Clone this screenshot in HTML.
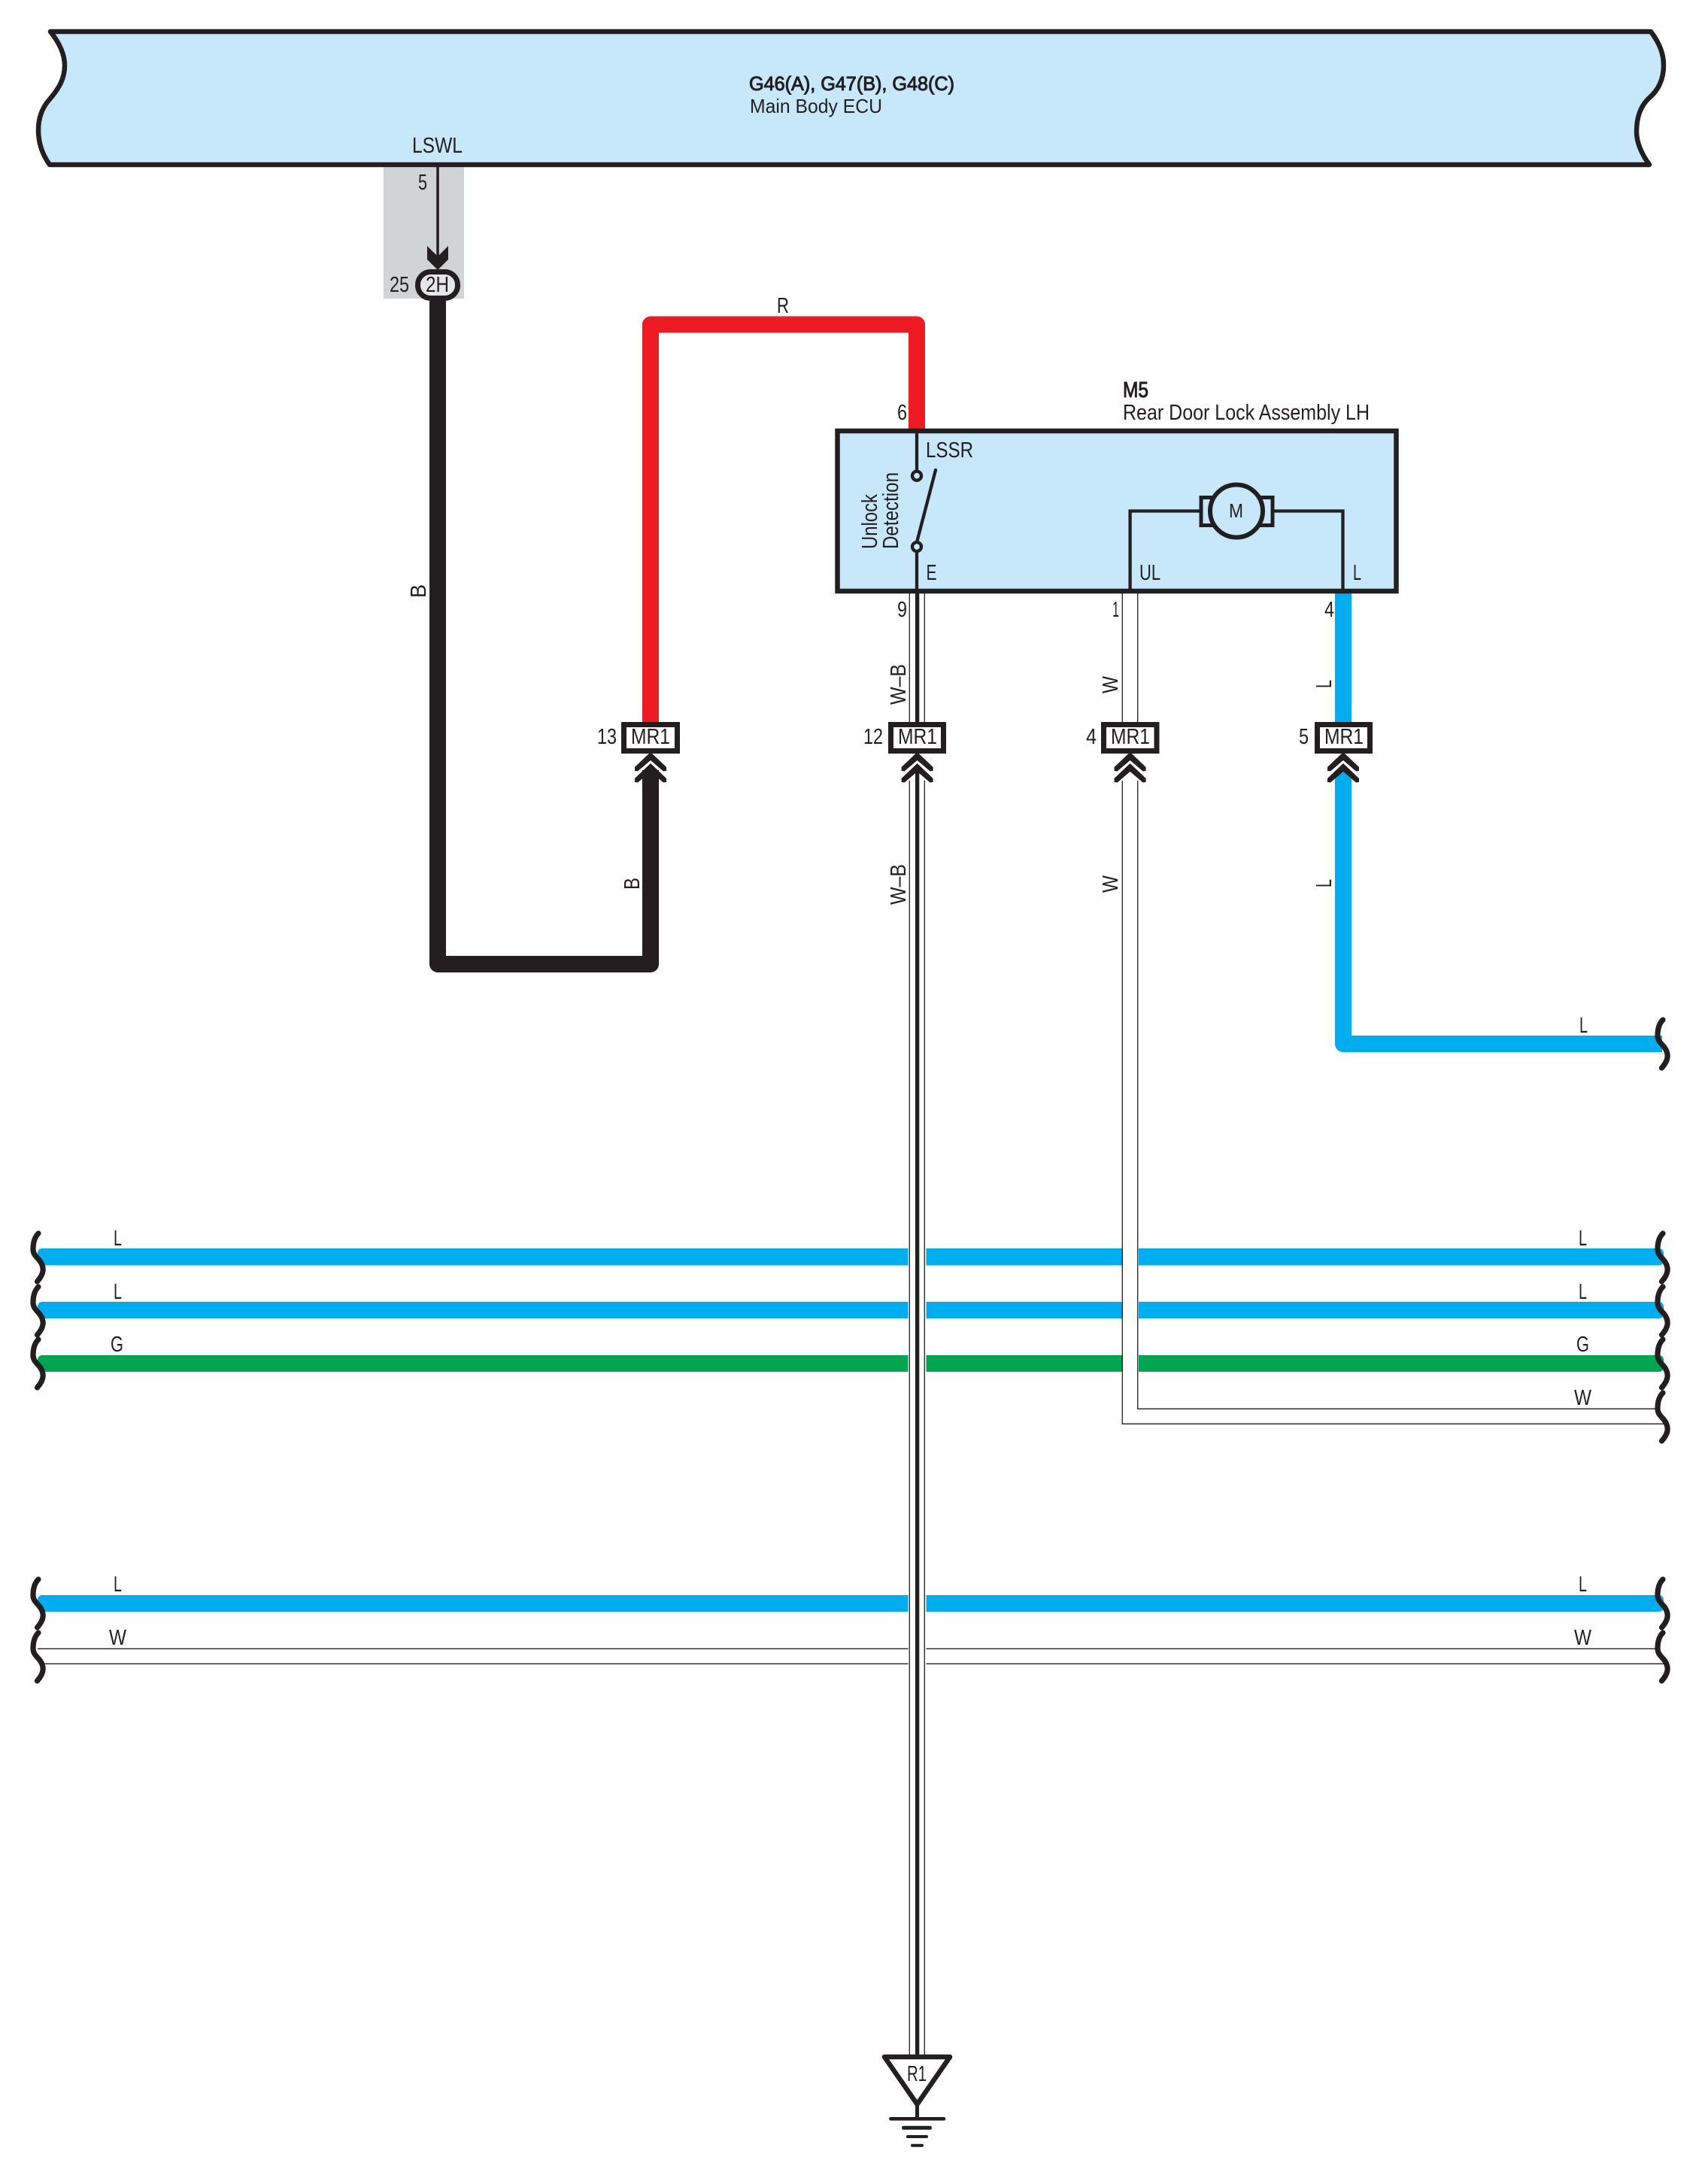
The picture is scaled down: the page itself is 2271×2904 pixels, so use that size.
<!DOCTYPE html>
<html><head><meta charset="utf-8"><title>Wiring diagram</title>
<style>html,body{margin:0;padding:0;background:#fff}svg{display:block}
text{font-family:"Liberation Sans",sans-serif;font-size:28.5px;fill:#231f20}
.t{font-size:26px}</style></head>
<body>
<svg xmlns="http://www.w3.org/2000/svg" xmlns:xlink="http://www.w3.org/1999/xlink" width="2271" height="2904" viewBox="0 0 2271 2904">
<defs>
<path id="sq" d="M51 0C46 5 44 13 44 21C44 29 50 32 54 38C57 43 57.5 47 57 50C56.5 55 53 60 49.5 64" fill="none" stroke="#231f20" stroke-width="7.2" stroke-linecap="round"/>
<path id="chev" d="M0 0L21 20V25L17 25.5L0 11L-17 25.5L-21 25V20Z" fill="#231f20"/>
</defs>
<rect width="2271" height="2904" fill="#fff"/>

<!-- ECU -->
<rect x="510" y="219" width="107" height="178" fill="#d1d3d4"/>
<path d="M67 42L2195 42C2207 58 2212 72 2212 87C2212 105 2205 120 2193 130C2182 140 2176 155 2176 175C2176 190 2183 205 2193 219L66 219C56 205 51 190 51 173C51 155 57 142 66 132C78 118 86 105 86 87C86 72 79 57 67 42Z" fill="#c7e8fa" stroke="#231f20" stroke-width="6.5" stroke-linejoin="round"/>
<text class="t" x="996" y="120" textLength="273" lengthAdjust="spacingAndGlyphs" stroke="#231f20" stroke-width="1">G46(A), G47(B), G48(C)</text>
<text class="t" x="997" y="150" textLength="176" lengthAdjust="spacingAndGlyphs">Main Body ECU</text>
<text x="548" y="203" textLength="67" lengthAdjust="spacingAndGlyphs">LSWL</text>
<text x="556" y="252" textLength="12" lengthAdjust="spacingAndGlyphs">5</text>

<!-- 2H -->
<line x1="582" y1="219" x2="582" y2="342" stroke="#231f20" stroke-width="3.5"/>
<polygon points="568,327 582,341 596,327 596,345 582,359 568,345" fill="#231f20"/>
<rect x="555.5" y="361.5" width="53" height="35" rx="17" fill="#e6e7e8" stroke="#231f20" stroke-width="7"/>
<text x="566" y="388" textLength="31" lengthAdjust="spacingAndGlyphs">2H</text>
<text x="518" y="388" textLength="26" lengthAdjust="spacingAndGlyphs">25</text>

<!-- black wire -->
<path d="M582 400V1282H865V1024" fill="none" stroke="#231f20" stroke-width="22" stroke-linejoin="round"/>
<text transform="translate(566,795) rotate(-90)" textLength="18" lengthAdjust="spacingAndGlyphs">B</text>
<text transform="translate(850,1183) rotate(-90)" textLength="16" lengthAdjust="spacingAndGlyphs">B</text>

<!-- red wire -->
<path d="M865 962V431.5H1219V573" fill="none" stroke="#ed1c24" stroke-width="22" stroke-linejoin="round"/>
<text x="1033" y="416" textLength="16" lengthAdjust="spacingAndGlyphs">R</text>

<!-- horizontal wires -->
<rect x="50" y="1660" width="2162" height="22.5" rx="6" fill="#00aeef"/>
<rect x="50" y="1731" width="2162" height="22" rx="6" fill="#00aeef"/>
<rect x="50" y="1802" width="2162" height="22" rx="6" fill="#00a651"/>
<rect x="50" y="2121" width="2162" height="22" rx="6" fill="#00aeef"/>
<g stroke="#231f20" stroke-width="1.3" fill="none">
<line x1="50" y1="2192.3" x2="2205" y2="2192.3"/>
<line x1="58" y1="2212.3" x2="2214" y2="2212.3"/>
</g>
<!-- gaps -->
<rect x="1207.5" y="1650" width="24" height="185" fill="#fff"/>
<rect x="1207.5" y="2115" width="24" height="105" fill="#fff"/>
<rect x="1492" y="1650" width="22" height="185" fill="#fff"/>

<!-- W-B wire -->
<g stroke="#231f20" fill="none">
<path d="M1209.3 786V962M1229.3 786V962M1209.3 1038V2734M1229.3 1038V2734" stroke-width="1.3"/>
<path d="M1219.6 786V962M1219.6 1020V2734" stroke-width="5.4"/>
</g>
<text transform="translate(1204,937) rotate(-90)" textLength="54" lengthAdjust="spacingAndGlyphs">W–B</text>
<text transform="translate(1204,1203) rotate(-90)" textLength="54" lengthAdjust="spacingAndGlyphs">W–B</text>

<!-- W wire -->
<g stroke="#231f20" fill="none" stroke-width="1.3">
<path d="M1492.3 786V962M1512.7 786V962"/>
<path d="M1512.7 1038V1873.3H2205"/>
<path d="M1492.3 1038V1893.3H2214"/>
</g>
<text transform="translate(1486,922) rotate(-90)" textLength="23" lengthAdjust="spacingAndGlyphs">W</text>
<text transform="translate(1486,1187) rotate(-90)" textLength="23" lengthAdjust="spacingAndGlyphs">W</text>

<!-- L wire -->
<path d="M1786 786V962M1786 1026V1388H2210" fill="none" stroke="#00aeef" stroke-width="22" stroke-linejoin="round"/>
<text transform="translate(1770,915) rotate(-90)" textLength="11" lengthAdjust="spacingAndGlyphs">L</text>
<text transform="translate(1770,1180) rotate(-90)" textLength="11" lengthAdjust="spacingAndGlyphs">L</text>

<!-- M5 box -->
<rect x="1113.5" y="573" width="743" height="213" fill="#c7e8fa" stroke="#231f20" stroke-width="6.5" stroke-linejoin="miter"/>
<text x="1493" y="528" textLength="34" lengthAdjust="spacingAndGlyphs" stroke="#231f20" stroke-width="1">M5</text>
<text x="1493" y="558" textLength="328" lengthAdjust="spacingAndGlyphs">Rear Door Lock Assembly LH</text>
<text x="1231" y="608" textLength="63" lengthAdjust="spacingAndGlyphs">LSSR</text>
<text x="1231.5" y="771" textLength="14" lengthAdjust="spacingAndGlyphs">E</text>
<text x="1515" y="771" textLength="28" lengthAdjust="spacingAndGlyphs">UL</text>
<text x="1799" y="771" textLength="11" lengthAdjust="spacingAndGlyphs">L</text>
<text transform="translate(1166,730) rotate(-90)" textLength="73" lengthAdjust="spacingAndGlyphs">Unlock</text>
<text transform="translate(1194,730) rotate(-90)" textLength="102" lengthAdjust="spacingAndGlyphs">Detection</text>
<g stroke="#231f20" stroke-width="4.3" fill="none">
<path d="M1219 576V626M1219 734V786"/>
<circle cx="1219" cy="632.7" r="6" fill="#c7e8fa"/>
<circle cx="1219" cy="727" r="6" fill="#c7e8fa"/>
<path d="M1244 625L1219 721" stroke-linecap="round"/>
<path d="M1502.6 786V679.5H1597M1692 679.5H1785.5V786"/>
<rect x="1597" y="661.5" width="95" height="37" fill="#c7e8fa" stroke-width="5"/>
<circle cx="1644" cy="679.5" r="35" fill="#c7e8fa" stroke-width="6"/>
</g>
<text x="1634" y="688" textLength="19" lengthAdjust="spacingAndGlyphs" style="font-size:26px">M</text>
<text x="1193" y="558" textLength="13" lengthAdjust="spacingAndGlyphs">6</text>
<text x="1193" y="820" textLength="13" lengthAdjust="spacingAndGlyphs">9</text>
<text x="1479" y="820" textLength="9" lengthAdjust="spacingAndGlyphs">1</text>
<text x="1761" y="820" textLength="13" lengthAdjust="spacingAndGlyphs">4</text>

<!-- MR1 connectors -->
<g fill="#fff" stroke="#231f20" stroke-width="7">
<rect x="829.5" y="963.5" width="71" height="35"/>
<rect x="1184.5" y="963.5" width="70" height="35"/>
<rect x="1467.5" y="963.5" width="70.5" height="35"/>
<rect x="1751.5" y="963.5" width="70" height="35"/>
</g>
<text x="839" y="989" textLength="52" lengthAdjust="spacingAndGlyphs">MR1</text>
<text x="1194" y="989" textLength="52" lengthAdjust="spacingAndGlyphs">MR1</text>
<text x="1477" y="989" textLength="52" lengthAdjust="spacingAndGlyphs">MR1</text>
<text x="1761" y="989" textLength="52" lengthAdjust="spacingAndGlyphs">MR1</text>
<text x="794" y="989" textLength="26" lengthAdjust="spacingAndGlyphs">13</text>
<text x="1148" y="989" textLength="26" lengthAdjust="spacingAndGlyphs">12</text>
<text x="1444" y="989" textLength="14" lengthAdjust="spacingAndGlyphs">4</text>
<text x="1727" y="989" textLength="13" lengthAdjust="spacingAndGlyphs">5</text>
<use xlink:href="#chev" href="#chev" x="865" y="1000"/><use xlink:href="#chev" href="#chev" x="865" y="1015"/>
<use xlink:href="#chev" href="#chev" x="1219.6" y="1000"/><use xlink:href="#chev" href="#chev" x="1219.6" y="1015"/>
<use xlink:href="#chev" href="#chev" x="1502.6" y="1000"/><use xlink:href="#chev" href="#chev" x="1502.6" y="1015"/>
<use xlink:href="#chev" href="#chev" x="1786" y="1000"/><use xlink:href="#chev" href="#chev" x="1786" y="1015"/>

<!-- Squiggles -->
<use xlink:href="#sq" href="#sq" x="0" y="1640"/>
<use xlink:href="#sq" href="#sq" x="0" y="1711"/>
<use xlink:href="#sq" href="#sq" x="0" y="1781"/>
<use xlink:href="#sq" href="#sq" x="0" y="2100"/>
<use xlink:href="#sq" href="#sq" x="0" y="2171"/>
<use xlink:href="#sq" href="#sq" x="2160" y="1356"/>
<use xlink:href="#sq" href="#sq" x="2160" y="1640"/>
<use xlink:href="#sq" href="#sq" x="2160" y="1711"/>
<use xlink:href="#sq" href="#sq" x="2160" y="1781"/>
<use xlink:href="#sq" href="#sq" x="2160" y="1852"/>
<use xlink:href="#sq" href="#sq" x="2160" y="2100"/>
<use xlink:href="#sq" href="#sq" x="2160" y="2171"/>

<!-- wire labels -->
<text x="151" y="1656" textLength="11" lengthAdjust="spacingAndGlyphs">L</text>
<text x="151" y="1727" textLength="11" lengthAdjust="spacingAndGlyphs">L</text>
<text x="147" y="1797" textLength="17" lengthAdjust="spacingAndGlyphs">G</text>
<text x="151" y="2116" textLength="11" lengthAdjust="spacingAndGlyphs">L</text>
<text x="145" y="2187" textLength="23" lengthAdjust="spacingAndGlyphs">W</text>
<text x="2100" y="1373" textLength="11" lengthAdjust="spacingAndGlyphs">L</text>
<text x="2099" y="1656" textLength="11" lengthAdjust="spacingAndGlyphs">L</text>
<text x="2099" y="1727" textLength="11" lengthAdjust="spacingAndGlyphs">L</text>
<text x="2096" y="1797" textLength="17" lengthAdjust="spacingAndGlyphs">G</text>
<text x="2093" y="1868" textLength="23" lengthAdjust="spacingAndGlyphs">W</text>
<text x="2099" y="2116" textLength="11" lengthAdjust="spacingAndGlyphs">L</text>
<text x="2093" y="2187" textLength="23" lengthAdjust="spacingAndGlyphs">W</text>

<!-- ground -->
<polygon points="1176,2735 1263,2735 1219.5,2798" fill="#fff" stroke="#231f20" stroke-width="6.5" stroke-linejoin="round"/>
<text x="1206" y="2767" textLength="26" lengthAdjust="spacingAndGlyphs">R1</text>
<g stroke="#231f20" stroke-linecap="round" fill="none">
<line x1="1219.5" y1="2798" x2="1219.5" y2="2817" stroke-width="5"/>
<line x1="1184.5" y1="2817.3" x2="1255" y2="2817.3" stroke-width="4.7"/>
<line x1="1201.5" y1="2829.3" x2="1236.5" y2="2829.3" stroke-width="5"/>
<line x1="1207" y1="2841" x2="1232" y2="2841" stroke-width="4"/>
<line x1="1213" y1="2852.7" x2="1226" y2="2852.7" stroke-width="4"/>
</g>
</svg>
</body></html>
